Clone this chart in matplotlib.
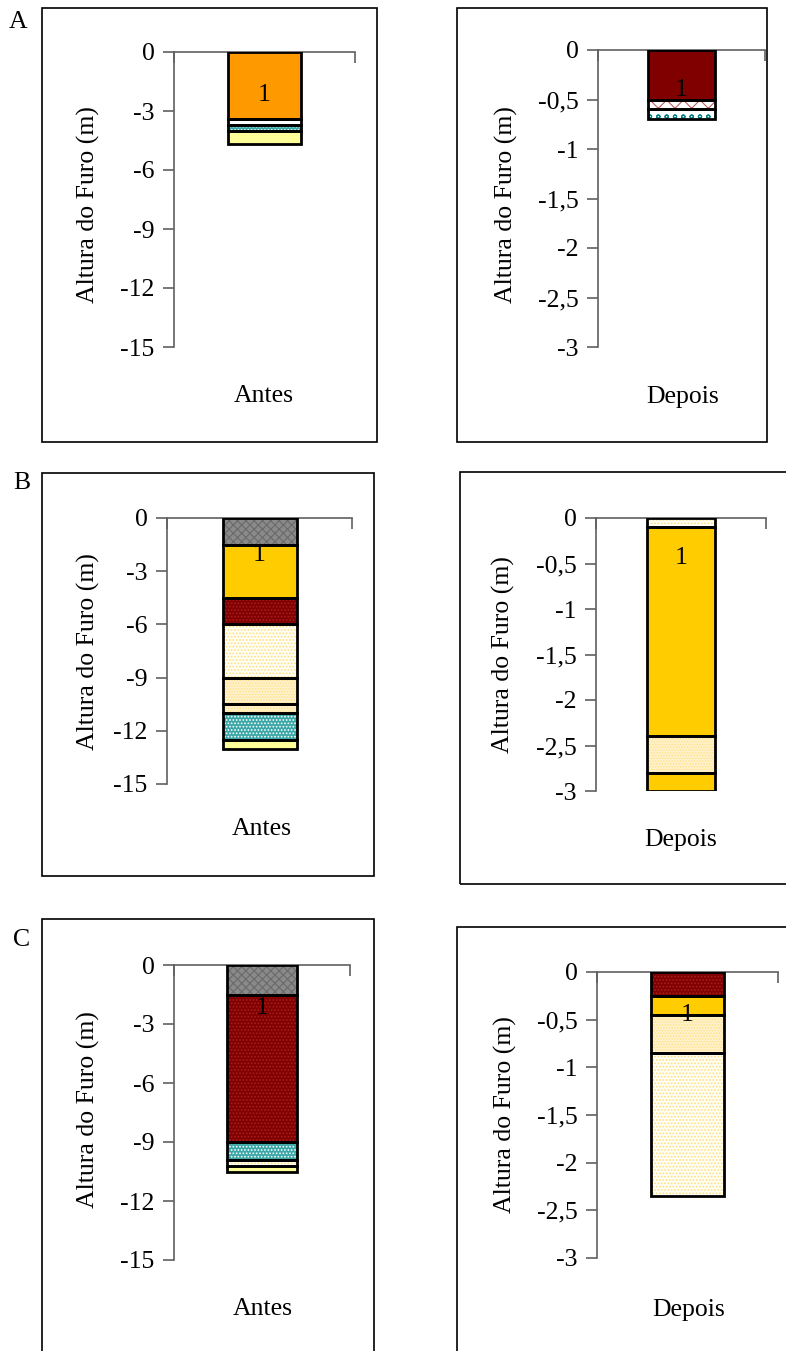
import matplotlib
matplotlib.use('Agg')
import matplotlib.pyplot as plt
from matplotlib.patches import Rectangle

plt.rcParams['font.family'] = ['Liberation Serif', 'DejaVu Serif']
plt.rcParams['hatch.linewidth'] = 0.8

W, H = 786, 1351

# dados: limites das camadas (m) e tipo de material de cada camada
a_antes_depth = [0, -3.4, -3.7, -4.0, -4.7]
a_antes_layers = ['laranja', 'branco', 'verde_pontos', 'amarelo_claro']
a_depois_depth = [0, -0.5, -0.6, -0.7]
a_depois_layers = ['vermelho', 'ondas', 'circulos']

b_antes_depth = [0, -1.5, -4.5, -6.0, -9.0, -10.5, -11.0, -12.5, -13.0]
b_antes_layers = ['cinza', 'ouro', 'vermelho_pontos', 'pontilhado', 'creme',
                  'creme', 'verde_pontos', 'amarelo_claro']
b_depois_depth = [0, -0.1, -2.4, -2.8, -3.0]
b_depois_layers = ['pontilhado', 'ouro', 'creme', 'ouro']

c_antes_depth = [0, -1.5, -9.0, -9.9, -10.2, -10.5]
c_antes_layers = ['cinza', 'vermelho_pontos', 'verde_pontos', 'pontilhado', 'amarelo_claro']
c_depois_depth = [0, -0.25, -0.45, -0.85, -2.35]
c_depois_layers = ['vermelho_pontos', 'ouro', 'creme', 'pontilhado']

antes_ticks = [0, -3, -6, -9, -12, -15]
antes_labels = ['0', '-3', '-6', '-9', '-12', '-15']
depois_ticks = [0, -0.5, -1, -1.5, -2, -2.5, -3]
depois_labels = ['0', '-0,5', '-1', '-1,5', '-2', '-2,5', '-3']

# estilo: (cor de fundo, hachura, cor da hachura)
styles = {
    'laranja': ('#FF9900', None, None),
    'branco': ('white', None, None),
    'verde_pontos': ('#3aa6a6', '.....', 'white'),
    'amarelo_claro': ('#FFFF99', None, None),
    'vermelho': ('#800000', None, None),
    'ondas': ('white', 'xx', '#c06060'),
    'circulos': ('white', 'oo', '#008080'),
    'cinza': ('#8a8a8a', 'xxxx', '#6a6a6a'),
    'ouro': ('#FFCC00', None, None),
    'vermelho_pontos': ('#800000', '.....', '#a82020'),
    'pontilhado': ('#FFFEF5', '.....', '#FFDF80'),
    'creme': ('#FFF2CC', '......', '#FFE08a'),
}

FS = 18.5
fig = plt.figure(figsize=(W / 100, H / 100), dpi=100)


def frame(x0, x1, y0, y1):
    fig.patches.append(Rectangle((x0 / W, 1 - y1 / H), (x1 - x0) / W, (y1 - y0) / H,
                                 transform=fig.transFigure, fill=False,
                                 edgecolor='black', linewidth=1.2))


def panel(box, depth, layers, ticks, labels, lab1):
    x0, x1, y0, y1 = box
    ax = fig.add_axes([x0 / W, 1 - y1 / H, (x1 - x0) / W, (y1 - y0) / H])
    for i, key in enumerate(layers):
        face, hatch, hcol = styles[key]
        top, bot = depth[i], depth[i + 1]
        ax.bar(0, bot - top, bottom=top, width=0.4, color=face, edgecolor='none', zorder=2)
        if hatch:
            ax.bar(0, bot - top, bottom=top, width=0.4, fill=False, hatch=hatch,
                   edgecolor=hcol, linewidth=0, zorder=3)
        ax.bar(0, bot - top, bottom=top, width=0.4, fill=False, edgecolor='black',
               linewidth=2, zorder=4)
    ax.text(0, lab1, '1', ha='center', va='center', fontsize=FS, zorder=5)
    ax.set_xlim(-0.5, 0.5)
    ax.set_ylim(ticks[-1], 0)
    ax.set_yticks(ticks)
    ax.set_yticklabels(labels, fontsize=FS)
    ax.xaxis.tick_top()
    ax.set_xticks([-0.5, 0.5])
    ax.set_xticklabels(['', ''])
    ax.tick_params(axis='x', direction='in', length=8, color='#606060', width=1.2)
    ax.tick_params(axis='y', direction='out', length=8, color='#606060', width=1.2, pad=6)
    for s in ['right', 'bottom']:
        ax.spines[s].set_visible(False)
    for s in ['left', 'top']:
        ax.spines[s].set_color('#606060')
        ax.spines[s].set_linewidth(1.2)
    ax.patch.set_alpha(0)
    return ax


def label(x, y, s, **kw):
    fig.text(x / W, 1 - y / H, s, fontsize=FS, ha='center', va='center', **kw)


# A
frame(42, 377, 8, 442)
frame(457, 767, 8, 442)
panel((174, 355, 52, 347), a_antes_depth, a_antes_layers, antes_ticks, antes_labels, -2.2)
panel((598, 765, 50, 347), a_depois_depth, a_depois_layers, depois_ticks, depois_labels, -0.4)
label(18, 22, 'A')
label(88, 205, 'Altura do Furo (m)', rotation=90)
label(506, 205, 'Altura do Furo (m)', rotation=90)
label(264, 396, 'Antes')
label(683, 397, 'Depois')

# B
frame(42, 374, 473, 876)
frame(460, 800, 472, 884)
panel((167, 352, 518, 784), b_antes_depth, b_antes_layers, antes_ticks, antes_labels, -2.1)
panel((596, 766, 518, 791), b_depois_depth, b_depois_layers, depois_ticks, depois_labels, -0.44)
label(22, 483, 'B')
label(88, 652, 'Altura do Furo (m)', rotation=90)
label(503, 655, 'Altura do Furo (m)', rotation=90)
label(262, 829, 'Antes')
label(681, 840, 'Depois')

# C
frame(42, 374, 919, 1360)
frame(457, 800, 927, 1360)
panel((174, 350, 965, 1260), c_antes_depth, c_antes_layers, antes_ticks, antes_labels, -2.2)
panel((597, 778, 972, 1258), c_depois_depth, c_depois_layers, depois_ticks, depois_labels, -0.45)
label(22, 940, 'C')
label(88, 1110, 'Altura do Furo (m)', rotation=90)
label(505, 1115, 'Altura do Furo (m)', rotation=90)
label(263, 1309, 'Antes')
label(689, 1310, 'Depois')

fig.savefig('out.png', dpi=100)
